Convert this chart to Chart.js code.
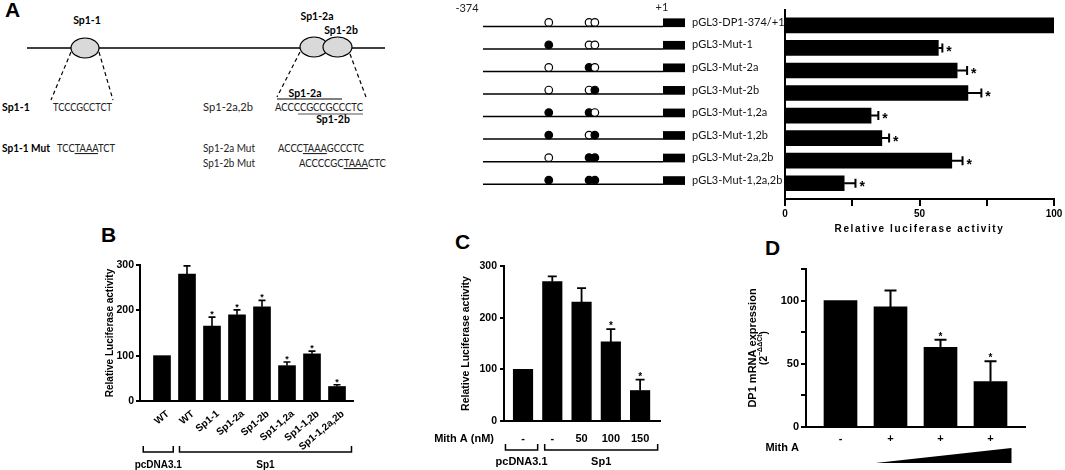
<!DOCTYPE html>
<html>
<head>
<meta charset="utf-8">
<script src="https://cdn.jsdelivr.net/npm/chart.js@4/dist/chart.umd.min.js"></script>
<style>
  html, body { margin: 0; padding: 0; background: #fff; }
  body { width: 1065px; height: 470px; position: relative; overflow: hidden; }
  .abs { position: absolute; }
  .letter { position: absolute; font: bold 21px 'Liberation Sans', Arial, sans-serif; line-height: 1; color: #000; }
  svg text { font-family: Lato, 'Liberation Sans', sans-serif; fill: #222; }
  svg .b { font-weight: bold; fill: #000; }
  .ul { text-decoration: underline; text-decoration-color: #888; }
</style>
</head>
<body>

<div class="letter" style="left:5px;top:-1px">A</div>
<div class="letter" style="left:101px;top:224px">B</div>
<div class="letter" style="left:455px;top:231px">C</div>
<div class="letter" style="left:765px;top:237px">D</div>

<!-- Panel A: binding-site diagram -->
<svg class="abs" style="left:0;top:0" width="440" height="175">
  <line x1="27" y1="48" x2="385" y2="48" stroke="#000" stroke-width="1.6"/>
  <ellipse cx="85" cy="48" rx="14" ry="10" fill="#d9d9d9" stroke="#000" stroke-width="1.2"/>
  <ellipse cx="314" cy="47" rx="14" ry="10" fill="#d9d9d9" stroke="#000" stroke-width="1.2"/>
  <ellipse cx="337.5" cy="47" rx="14.5" ry="10" fill="#d9d9d9" stroke="#000" stroke-width="1.2"/>
  <text class="b" x="87" y="24" font-size="10.5" text-anchor="middle">Sp1-1</text>
  <text class="b" x="317" y="20" font-size="10.5" text-anchor="middle">Sp1-2a</text>
  <text class="b" x="341" y="34" font-size="10.5" text-anchor="middle">Sp1-2b</text>
  <g stroke="#000" stroke-width="1.2" stroke-dasharray="4 3">
    <line x1="71" y1="52" x2="51" y2="100"/>
    <line x1="99" y1="52" x2="113" y2="100"/>
    <line x1="300" y1="52" x2="277" y2="97"/>
    <line x1="350" y1="54" x2="366" y2="97"/>
  </g>

  <text class="b" x="2" y="111" font-size="10.5">Sp1-1</text>
  <text x="53" y="111" font-size="11" textLength="59" lengthAdjust="spacingAndGlyphs">TCCCGCCTCT</text>
  <text x="203" y="111" font-size="11" textLength="50" lengthAdjust="spacingAndGlyphs">Sp1-2a,2b</text>
  <text x="275" y="111" font-size="11" textLength="88" lengthAdjust="spacingAndGlyphs">ACCCCGCCGCCCTC</text>
  <line x1="277" y1="99" x2="342" y2="99" stroke="#000" stroke-width="1"/>
  <text class="b" x="305" y="96.5" font-size="10.5" text-anchor="middle">Sp1-2a</text>
  <line x1="298" y1="114" x2="363" y2="114" stroke="#555" stroke-width="1"/>
  <text class="b" x="333" y="123" font-size="10.5" text-anchor="middle">Sp1-2b</text>

  <text class="b" x="2" y="152" font-size="10.5" textLength="48" lengthAdjust="spacingAndGlyphs">Sp1-1 Mut</text>
  <text x="57" y="152" font-size="11" textLength="58" lengthAdjust="spacingAndGlyphs">TCC<tspan class="ul">TAAA</tspan>TCT</text>
  <text x="203" y="152" font-size="11" textLength="52" lengthAdjust="spacingAndGlyphs">Sp1-2a Mut</text>
  <text x="278" y="152" font-size="11" textLength="86" lengthAdjust="spacingAndGlyphs">ACCC<tspan class="ul">TAAA</tspan>GCCCTC</text>
  <text x="203" y="167" font-size="11" textLength="52" lengthAdjust="spacingAndGlyphs">Sp1-2b Mut</text>
  <text x="299" y="167" font-size="11" textLength="87" lengthAdjust="spacingAndGlyphs">ACCCCGC<tspan class="ul">TAAA</tspan>CTC</text>
</svg>

<canvas id="chartA" class="abs" style="left:440px;top:0" width="625" height="240"></canvas>
<canvas id="chartB" class="abs" style="left:90px;top:220px" width="280" height="250"></canvas>
<canvas id="chartC" class="abs" style="left:360px;top:220px" width="305" height="250"></canvas>
<canvas id="chartD" class="abs" style="left:740px;top:230px" width="325" height="240"></canvas>

<script>
// Panel A – promoter constructs
const constructs = ['pGL3-DP1-374/+1', 'pGL3-Mut-1', 'pGL3-Mut-2a', 'pGL3-Mut-2b',
  'pGL3-Mut-1,2a', 'pGL3-Mut-1,2b', 'pGL3-Mut-2a,2b', 'pGL3-Mut-1,2a,2b'];
const constructActivity = [100, 57, 64, 68, 32, 36, 62, 22];
const constructError    = [0, 1.5, 3.7, 5, 2.7, 2.7, 4, 4.2];
const constructStar     = [0, 1, 1, 1, 1, 1, 1, 1];
const aAxisTitle = 'Relative luciferase activity';
const promoterStart = -374, promoterEnd = 1;
const siteNames     = ['Sp1-1', 'Sp1-2a', 'Sp1-2b'];
const sitePositions = [-237, -153, -141];  // approximate, read off the schematic
const siteMutated   = [[0,0,0], [1,0,0], [0,1,0], [0,0,1], [1,1,0], [1,0,1], [0,1,1], [1,1,1]];

// Panel B
const bLabels = ['WT', 'WT', 'Sp1-1', 'Sp1-2a', 'Sp1-2b', 'Sp1-1,2a', 'Sp1-1,2b', 'Sp1-1,2a,2b'];
const bValues = [100, 280, 165, 190, 208, 78, 104, 32];
const bErrors = [0, 18, 20, 11, 14, 8, 6, 4];
const bStars  = [0, 0, 1, 1, 1, 1, 1, 1];
const bGroups = [{ label: 'pcDNA3.1', first: 1, last: 1 }, { label: 'Sp1', first: 2, last: 8 }];

// Panel C
const cLabels = ['-', '-', '50', '100', '150'];
const cValues = [100, 270, 230, 153, 59];
const cErrors = [0, 10, 27, 25, 21];
const cStars  = [0, 0, 0, 1, 1];
const cGroups = [{ label: 'pcDNA3.1', first: 1, last: 1 }, { label: 'Sp1', first: 2, last: 5 }];

// Panel D
const dLabels = ['-', '+', '+', '+'];
const dValues = [100, 95, 63, 36];
const dErrors = [0, 13, 6, 16];
const dStars  = [0, 0, 1, 1];

const ARIAL = "'Liberation Sans', Arial, sans-serif";
Chart.defaults.font.family = ARIAL;
Chart.defaults.color = '#000';
Chart.defaults.animation = false;
Chart.defaults.plugins.legend.display = false;
Chart.defaults.plugins.tooltip.enabled = false;

function errorBarPlugin(values, errors, stars, o) {
  return {
    id: 'errorBars',
    afterDatasetsDraw(chart) {
      const ctx = chart.ctx;
      const horiz = chart.options.indexAxis === 'y';
      const vScale = horiz ? chart.scales.x : chart.scales.y;
      const bars = chart.getDatasetMeta(0).data;
      ctx.save();
      ctx.strokeStyle = '#000';
      ctx.fillStyle = '#000';
      ctx.lineWidth = o.lineWidth;
      bars.forEach((bar, i) => {
        const p0 = vScale.getPixelForValue(values[i]);
        const p1 = vScale.getPixelForValue(values[i] + errors[i]);
        const c = horiz ? bar.y : bar.x;
        if (errors[i] > 0) {
          ctx.beginPath();
          if (horiz) {
            ctx.moveTo(p0, c); ctx.lineTo(p1, c);
            ctx.moveTo(p1, c - o.cap); ctx.lineTo(p1, c + o.cap);
          } else {
            ctx.moveTo(c, p0); ctx.lineTo(c, p1);
            ctx.moveTo(c - o.cap, p1); ctx.lineTo(c + o.cap, p1);
          }
          ctx.stroke();
        }
        if (stars[i]) {
          ctx.font = o.starFont;
          if (horiz) {
            ctx.textAlign = 'left'; ctx.textBaseline = 'middle';
            ctx.fillText('*', p1 + o.starGap, c + o.starShift);
          } else {
            ctx.textAlign = 'center'; ctx.textBaseline = 'alphabetic';
            ctx.fillText('*', c, p1 + o.starShift);
          }
        }
      });
      ctx.restore();
    }
  };
}

// o.padL / o.padR: how far (in category units) each bracket reaches past its first/last bar
function bracketPlugin(groups, o) {
  return {
    id: 'brackets',
    afterDraw(chart) {
      const { ctx, scales: { x } } = chart;
      ctx.save();
      ctx.strokeStyle = '#000';
      ctx.fillStyle = '#000';
      ctx.lineWidth = 1.5;
      ctx.font = o.font;
      ctx.textAlign = 'center';
      ctx.textBaseline = 'middle';
      groups.forEach((g, k) => {
        const a = x.getPixelForValue(g.first - o.padL[k]);
        const b = x.getPixelForValue(g.last + o.padR[k]);
        ctx.beginPath();
        ctx.moveTo(a, o.y - o.tick); ctx.lineTo(a, o.y);
        ctx.lineTo(b, o.y); ctx.lineTo(b, o.y - o.tick);
        ctx.stroke();
        ctx.fillText(g.label, (a + b) / 2, o.y + o.textGap);
      });
      ctx.restore();
    }
  };
}

function indexTicks(labels) {
  return s => { s.ticks = labels.map((_, i) => ({ value: i + 1 })); };
}

// ---------- Panel A ----------
const schematicPlugin = {
  id: 'schematic',
  afterDraw(chart) {
    const { ctx, scales: { y } } = chart;
    const x0 = 43, x1 = 223;
    const bpX = bp => x0 + (bp - promoterStart) / (promoterEnd - promoterStart) * (x1 - x0);
    ctx.save();
    ctx.font = '11px Lato';
    ctx.fillStyle = '#222';
    ctx.textAlign = 'center';
    ctx.textBaseline = 'middle';
    ctx.fillText(String(promoterStart), bpX(promoterStart) - 16, 8);
    ctx.fillText('+' + promoterEnd, bpX(promoterEnd) - 1, 7);
    constructs.forEach((name, i) => {
      const ly = y.getPixelForValue(i) + 1;
      ctx.strokeStyle = '#000';
      ctx.lineWidth = 1.5;
      ctx.beginPath(); ctx.moveTo(x0, ly); ctx.lineTo(x1, ly); ctx.stroke();
      ctx.fillStyle = '#000';
      ctx.fillRect(x1, ly - 8, 22, 8.7);
      sitePositions.forEach((bp, k) => {
        ctx.beginPath();
        ctx.arc(bpX(bp), ly - 4, 3.8, 0, Math.PI * 2);
        ctx.fillStyle = siteMutated[i][k] ? '#000' : '#fff';
        ctx.fill();
        ctx.lineWidth = 1.2;
        ctx.stroke();
      });
    });
    ctx.restore();
  }
};

const aTitlePlugin = {
  id: 'aTitle',
  afterDraw(chart) {
    const { ctx, chartArea } = chart;
    ctx.save();
    ctx.font = "bold 10px 'Liberation Sans'";
    ctx.letterSpacing = '1.6px';
    ctx.fillStyle = '#000';
    ctx.textAlign = 'center';
    ctx.textBaseline = 'middle';
    ctx.fillText(aAxisTitle, (chartArea.left + chartArea.right) / 2, chartArea.bottom + 30);
    ctx.restore();
  }
};

new Chart(document.getElementById('chartA'), {
  type: 'bar',
  data: {
    datasets: [{
      data: constructActivity.map((v, i) => ({ x: v, y: i })),
      backgroundColor: '#000',
      barThickness: 15
    }]
  },
  options: {
    indexAxis: 'y',
    responsive: false,
    layout: { padding: { left: 252, right: 11, top: 3, bottom: 0 } },
    scales: {
      y: {
        type: 'linear', reverse: true, min: -0.7, max: 7.7, offset: false,
        afterBuildTicks: s => { s.ticks = constructs.map((_, i) => ({ value: i })); },
        afterFit: s => { s.width = 93; },
        ticks: {
          callback: v => constructs[v], autoSkip: false, crossAlign: 'far', labelOffset: -3,
          color: '#111', font: { family: 'Lato', size: 11 }
        },
        grid: { display: false, drawTicks: false },
        border: { color: '#000', width: 2 }
      },
      x: {
        min: 0, max: 100,
        afterFit: s => { s.height = 41; },
        ticks: { stepSize: 25, callback: v => (v % 50 === 0 ? v : ''), maxRotation: 0, padding: 2,
          font: { size: 10, weight: 'bold' } },
        grid: { drawOnChartArea: false, tickLength: 7, color: '#000', lineWidth: 2 },
        border: { color: '#000', width: 2 }
      }
    }
  },
  plugins: [
    errorBarPlugin(constructActivity, constructError, constructStar,
      { cap: 4.5, lineWidth: 2, starFont: "bold 14px 'Liberation Sans'", starGap: 4, starShift: 4 }),
    schematicPlugin, aTitlePlugin
  ]
});

// ---------- Panel B ----------
new Chart(document.getElementById('chartB'), {
  type: 'bar',
  data: {
    datasets: [{
      data: bValues.map((v, i) => ({ x: i + 1, y: v })),
      backgroundColor: '#000',
      barThickness: 17
    }]
  },
  options: {
    responsive: false,
    layout: { padding: { left: 0, right: 17, top: 45, bottom: 0 } },
    scales: {
      x: {
        type: 'linear', min: 0.12, max: 8.64, offset: false,
        afterBuildTicks: indexTicks(bLabels),
        afterFit: s => { s.height = 69; },
        ticks: { callback: v => bLabels[v - 1], autoSkip: false, minRotation: 40, maxRotation: 40,
          padding: 7, labelOffset: 6, font: { size: 10, weight: 'bold' } },
        grid: { display: false, drawTicks: false },
        border: { color: '#000', width: 2 }
      },
      y: {
        min: 0, max: 300,
        afterFit: s => { s.width = 50; },
        ticks: { stepSize: 100, padding: 2, font: { size: 10.5, weight: 'bold' } },
        grid: { drawOnChartArea: false, tickLength: 4, color: '#000', lineWidth: 2 },
        border: { color: '#000', width: 2 },
        title: { display: true, text: 'Relative Luciferase activity',
          font: { size: 10, weight: 'bold' }, padding: { top: 14, bottom: 0 } }
      }
    }
  },
  plugins: [
    errorBarPlugin(bValues, bErrors, bStars,
      { cap: 3.5, lineWidth: 1.6, starFont: "bold 9px 'Liberation Sans'", starShift: 0 }),
    bracketPlugin(bGroups, { y: 232, tick: 6, padL: [0.75, 0.3], padR: [0.45, 0.58], textGap: 13,
      font: "bold 10px 'Liberation Sans'" })
  ]
});

// ---------- Panel C ----------
const cRowLabel = {
  id: 'cRowLabel',
  afterDraw(chart) {
    const { ctx, chartArea } = chart;
    ctx.save();
    ctx.font = "bold 11px 'Liberation Sans'";
    ctx.fillStyle = '#000';
    ctx.textAlign = 'right';
    ctx.textBaseline = 'middle';
    ctx.fillText('Mith A (nM)', chartArea.left - 10, chartArea.bottom + 18);
    ctx.restore();
  }
};

new Chart(document.getElementById('chartC'), {
  type: 'bar',
  data: {
    datasets: [{
      data: cValues.map((v, i) => ({ x: i + 1, y: v })),
      backgroundColor: '#000',
      barThickness: 19.5
    }]
  },
  options: {
    responsive: false,
    layout: { padding: { left: 0, right: 5, top: 46, bottom: 0 } },
    scales: {
      x: {
        type: 'linear', min: 0.35, max: 5.68, offset: false,
        afterBuildTicks: indexTicks(cLabels),
        afterFit: s => { s.height = 49; },
        ticks: { callback: v => cLabels[v - 1], autoSkip: false, maxRotation: 0, padding: 11.5,
          font: { size: 11, weight: 'bold' } },
        grid: { display: false, drawTicks: false },
        border: { color: '#000', width: 2 }
      },
      y: {
        min: 0, max: 300,
        afterFit: s => { s.width = 144; },
        ticks: { stepSize: 100, padding: 3, font: { size: 10.5, weight: 'bold' } },
        grid: { drawOnChartArea: false, tickLength: 4, color: '#000', lineWidth: 2 },
        border: { color: '#000', width: 2 },
        title: { display: true, text: 'Relative Luciferase activity',
          font: { size: 10.5, weight: 'bold' }, padding: { top: 100, bottom: 0 } }
      }
    }
  },
  plugins: [
    errorBarPlugin(cValues, cErrors, cStars,
      { cap: 4.5, lineWidth: 1.8, starFont: "bold 10px 'Liberation Sans'", starShift: 0 }),
    bracketPlugin(cGroups, { y: 230, tick: 6, padL: [0.6, 0.26], padR: [0.5, 0.6], textGap: 12,
      font: "bold 11px 'Liberation Sans'" }),
    cRowLabel
  ]
});

// ---------- Panel D ----------
const dExtras = {
  id: 'dExtras',
  afterDraw(chart) {
    const { ctx, chartArea, scales: { x } } = chart;
    const cy = (chartArea.top + chartArea.bottom) / 2;
    ctx.save();
    ctx.fillStyle = '#000';
    ctx.translate(13, cy);
    ctx.rotate(-Math.PI / 2);
    ctx.textBaseline = 'middle';
    ctx.textAlign = 'center';
    ctx.font = "bold 11px 'Liberation Sans'";
    ctx.fillText('DP1 mRNA expression', 0, 0);
    // (2^-ΔΔCt) on the second line
    const base = "bold 10px 'Liberation Sans'", sup = "bold 7px 'Liberation Sans'";
    ctx.font = base; const w1 = ctx.measureText('(2').width, w3 = ctx.measureText(')').width;
    ctx.font = sup; const w2 = ctx.measureText('\u2212\u0394\u0394Ct').width;
    let sx = -(w1 + w2 + w3) / 2;
    ctx.textAlign = 'left';
    ctx.font = base; ctx.fillText('(2', sx, 11); sx += w1;
    ctx.font = sup; ctx.fillText('\u2212\u0394\u0394Ct', sx, 7); sx += w2;
    ctx.font = base; ctx.fillText(')', sx, 11);
    ctx.restore();

    ctx.save();
    ctx.fillStyle = '#000';
    ctx.font = "bold 11px 'Liberation Sans'";
    ctx.textAlign = 'right';
    ctx.textBaseline = 'middle';
    ctx.fillText('Mith A', chartArea.left - 7, chartArea.bottom + 21);
    // dose wedge under the Mith A lanes
    const xa = x.getPixelForValue(1.7), xb = x.getPixelForValue(4.42);
    const yb = chartArea.bottom + 36;
    ctx.beginPath();
    ctx.moveTo(xa, yb); ctx.lineTo(xb, yb); ctx.lineTo(xb, yb - 15);
    ctx.closePath();
    ctx.fill();
    ctx.restore();
  }
};

new Chart(document.getElementById('chartD'), {
  type: 'bar',
  data: {
    datasets: [{
      data: dValues.map((v, i) => ({ x: i + 1, y: v })),
      backgroundColor: '#000',
      barThickness: 33
    }]
  },
  options: {
    responsive: false,
    layout: { padding: { left: 0, right: 40, top: 39, bottom: 0 } },
    scales: {
      x: {
        type: 'linear', min: 0.31, max: 4.69, offset: false,
        afterBuildTicks: indexTicks(dLabels),
        afterFit: s => { s.height = 43; },
        ticks: { callback: v => dLabels[v - 1], autoSkip: false, maxRotation: 0, padding: 5.5,
          font: { size: 11, weight: 'bold' } },
        grid: { display: false, drawTicks: false },
        border: { color: '#000', width: 2 }
      },
      y: {
        min: 0, max: 125,
        afterFit: s => { s.width = 66; },
        ticks: { stepSize: 25, callback: v => (v % 50 === 0 ? v : ''), padding: 2,
          font: { size: 11, weight: 'bold' } },
        grid: { drawOnChartArea: false, tickLength: 5, color: '#000', lineWidth: 2 },
        border: { color: '#000', width: 2 }
      }
    }
  },
  plugins: [
    errorBarPlugin(dValues, dErrors, dStars,
      { cap: 6, lineWidth: 2, starFont: "bold 10px 'Liberation Sans'", starShift: 0 }),
    dExtras
  ]
});
</script>
</body>
</html>
